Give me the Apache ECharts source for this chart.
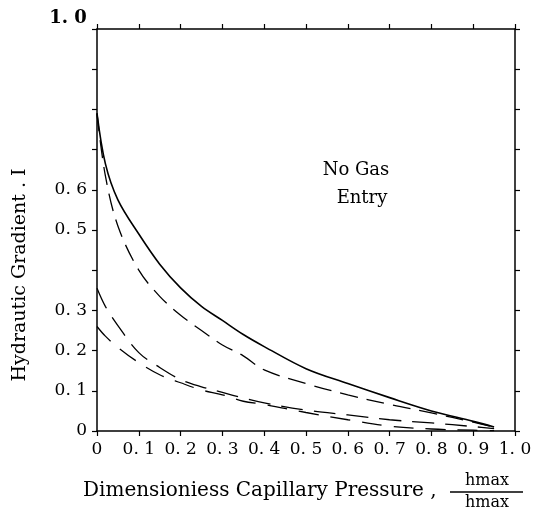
<!DOCTYPE html>
<html>
<head>
<meta charset="utf-8">
<script src="https://cdn.jsdelivr.net/npm/echarts@6/dist/echarts.min.js"></script>
<style>
  html, body { margin: 0; padding: 0; background: #fff; }
  #chart { width: 544px; height: 513px; }
</style>
</head>
<body>
<div id="chart"></div>
<script>
// x = dimensionless capillary pressure
const xs = [0, 0.02, 0.05, 0.1, 0.15, 0.2, 0.25, 0.3, 0.35, 0.4, 0.5, 0.6, 0.7, 0.8, 0.9, 0.95];
const solidTop = [0.79, 0.665, 0.575, 0.49, 0.415, 0.356, 0.31, 0.275, 0.24, 0.21, 0.155, 0.118, 0.083, 0.05, 0.024, 0.01];
const dashTop  = [0.79, 0.635, 0.51, 0.40, 0.335, 0.288, 0.25, 0.214, 0.187, 0.152, 0.118, 0.09, 0.066, 0.045, 0.022, 0.01];
const dashLowA = [0.355, 0.31, 0.262, 0.195, 0.158, 0.128, 0.11, 0.096, 0.082, 0.07, 0.052, 0.04, 0.028, 0.02, 0.011, 0.006];
const dashLowB = [0.26, 0.236, 0.208, 0.17, 0.14, 0.12, 0.102, 0.09, 0.074, 0.066, 0.046, 0.028, 0.012, 0.005, 0.002, 0.001];

const xTickLabels = ['0', '0. 1', '0. 2', '0. 3', '0. 4', '0. 5', '0. 6', '0. 7', '0. 8', '0. 9', '1. 0'];
// only these y ticks carry a label on the original
const yTickValues = [0, 0.1, 0.2, 0.3, 0.5, 0.6, 1.0];
const yTickLabels = ['0', '0. 1', '0. 2', '0. 3', '0. 5', '0. 6', '1. 0'];

const FONT = 'DejaVu Serif';

function pairs(ys) {
    return xs.map((x, i) => [x, ys[i]]);
}

function yLabel(v) {
    const i = yTickValues.findIndex(t => Math.abs(t - v) < 1e-6);
    if (i < 0 || yTickValues[i] === 1.0) return '';   // 1.0 is drawn above the frame
    return yTickLabels[i];
}

const chart = echarts.init(document.getElementById('chart'));

const axisLine = { show: true, onZero: false, lineStyle: { color: '#000', width: 1.5 } };
const axisTick = { show: true, inside: false, length: 5, lineStyle: { color: '#000', width: 1.2 } };

function curve(name, ys, width, dash) {
    return {
        name: name, type: 'line', data: pairs(ys), symbol: 'none', smooth: 0.35,
        lineStyle: { color: '#000', width: width, type: dash || 'solid' }
    };
}

const option = {
    backgroundColor: '#fff',
    animation: false,
    grid: { left: 97, right: 29, top: 29, bottom: 82 },
    xAxis: [
        {
            type: 'value', min: 0, max: 1, interval: 0.1, position: 'bottom',
            axisLine: axisLine, axisTick: axisTick, splitLine: { show: false },
            axisLabel: {
                margin: 10, color: '#000', fontFamily: FONT, fontSize: 17,
                formatter: (v, i) => xTickLabels[i]
            }
        },
        {
            type: 'value', min: 0, max: 1, interval: 0.1, position: 'top',
            axisLine: axisLine, axisTick: axisTick, splitLine: { show: false },
            axisLabel: { show: false }
        }
    ],
    yAxis: [
        {
            type: 'value', min: 0, max: 1, interval: 0.1, position: 'left',
            axisLine: axisLine, axisTick: axisTick, splitLine: { show: false },
            axisLabel: {
                margin: 10, color: '#000', fontFamily: FONT, fontSize: 17,
                formatter: yLabel
            }
        },
        {
            type: 'value', min: 0, max: 1, interval: 0.1, position: 'right',
            axisLine: axisLine, axisTick: axisTick, splitLine: { show: false },
            axisLabel: { show: false }
        }
    ],
    series: [
        curve('solid', solidTop, 1.6),
        curve('dashTop', dashTop, 1.3, [18, 9]),
        curve('dashLowA', dashLowA, 1.3, [22, 11]),
        curve('dashLowB', dashLowB, 1.3, [20, 12])
    ],
    graphic: [
        { type: 'text', x: 68, y: 18,
          style: { text: yTickLabels[6], fontFamily: FONT, fontSize: 18, fontWeight: 'bold', fill: '#000', align: 'center', verticalAlign: 'middle' } },
        { type: 'text', x: 20, y: 275, rotation: Math.PI / 2,
          style: { text: 'Hydrautic Gradient . I', fontFamily: FONT, fontSize: 19, fill: '#000', align: 'center', verticalAlign: 'middle' } },
        { type: 'text', x: 356, y: 170,
          style: { text: 'No Gas', fontFamily: FONT, fontSize: 18, fill: '#000', align: 'center', verticalAlign: 'middle' } },
        { type: 'text', x: 362, y: 198,
          style: { text: 'Entry', fontFamily: FONT, fontSize: 18, fill: '#000', align: 'center', verticalAlign: 'middle' } },
        { type: 'text', x: 83, y: 491,
          style: { text: 'Dimensioniess Capillary Pressure ,', fontFamily: FONT, fontSize: 20, fill: '#000', align: 'left', verticalAlign: 'middle' } },
        { type: 'text', x: 487, y: 481,
          style: { text: 'hmax', fontFamily: FONT, fontSize: 16, fill: '#000', align: 'center', verticalAlign: 'middle' } },
        { type: 'line', shape: { x1: 450, y1: 492, x2: 523, y2: 492 }, style: { stroke: '#000', lineWidth: 1.3 } },
        { type: 'text', x: 487, y: 503,
          style: { text: 'hmax', fontFamily: FONT, fontSize: 16, fill: '#000', align: 'center', verticalAlign: 'middle' } }
    ]
};

chart.setOption(option);
</script>
</body>
</html>
